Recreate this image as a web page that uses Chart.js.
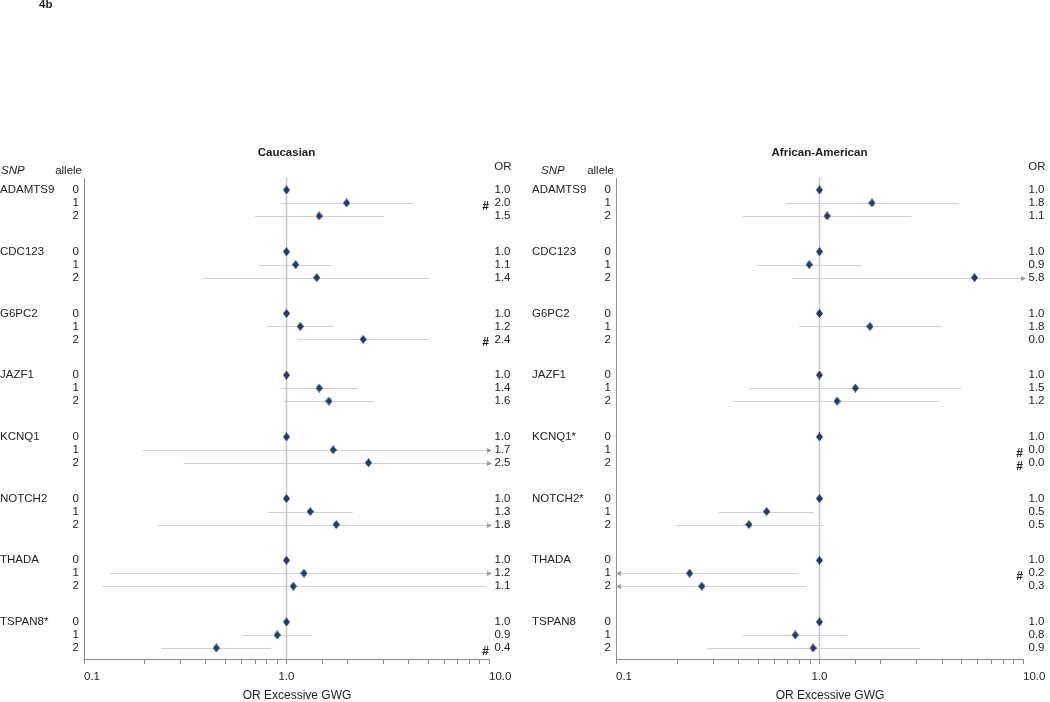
<!DOCTYPE html>
<html>
<head>
<meta charset="utf-8">
<script src="https://cdn.jsdelivr.net/npm/chart.js@4.4.1/dist/chart.umd.min.js"></script>
<style>
body { margin: 0; background: #fff; }
#wrap { position: relative; width: 1050px; height: 702px; }
canvas { position: absolute; top: 0; }
#cau { left: 0; }
#aa { left: 525px; }
</style>
</head>
<body>
<div id="wrap">
<canvas id="cau" width="525" height="702"></canvas>
<canvas id="aa" width="525" height="702"></canvas>
</div>
<script>
// gene rows, 3 alleles each
const ALLELES = ['0', '1', '2']
const SNPS_CAU = ['ADAMTS9', 'CDC123', 'G6PC2', 'JAZF1', 'KCNQ1', 'NOTCH2', 'THADA', 'TSPAN8*']
const SNPS_AA = ['ADAMTS9', 'CDC123', 'G6PC2', 'JAZF1', 'KCNQ1*', 'NOTCH2*', 'THADA', 'TSPAN8']

// Caucasian: odds ratio, CI low, CI high (values past 0.1 / 10 get an arrow)
const OR_CAU = [1.0, 1.98, 1.45, 1.0, 1.11, 1.41, 1.0, 1.17, 2.39, 1.0, 1.45, 1.62,
    1.0, 1.70, 2.54, 1.0, 1.31, 1.76, 1.0, 1.22, 1.08, 1.0, 0.90, 0.45]
const LO_CAU = [null, 0.94, 0.70, null, 0.73, 0.39, null, 0.80, 1.13, null, 0.94, 0.97,
    null, 0.196, 0.31, null, 0.81, 0.23, null, 0.134, 0.123, null, 0.61, 0.24]
const HI_CAU = [null, 4.22, 3.04, null, 1.68, 5.12, null, 1.71, 5.02, null, 2.25, 2.69,
    null, 15, 15, null, 2.12, 15, null, 15, 9.6, null, 1.34, 0.84]
const LABEL_CAU = ['1.0', '2.0', '1.5', '1.0', '1.1', '1.4', '1.0', '1.2', '2.4', '1.0', '1.4', '1.6',
    '1.0', '1.7', '2.5', '1.0', '1.3', '1.8', '1.0', '1.2', '1.1', '1.0', '0.9', '0.4']
const FLAG_CAU = [1, 8, 23]

// African-American
const OR_AA = [1.0, 1.81, 1.09, 1.0, 0.89, 5.78, 1.0, 1.77, null, 1.0, 1.50, 1.22,
    1.0, null, null, 1.0, 0.55, 0.45, 1.0, 0.23, 0.264, 1.0, 0.76, 0.93]
const LO_AA = [null, 0.68, 0.42, null, 0.49, 0.73, null, 0.79, null, null, 0.45, 0.376,
    null, null, null, null, 0.32, 0.197, null, 0.05, 0.05, null, 0.42, 0.28]
const HI_AA = [null, 4.82, 2.83, null, 1.61, 15, null, 4.02, null, null, 4.95, 3.89,
    null, null, null, null, 0.94, 1.05, null, 0.776, 0.86, null, 1.37, 3.11]
const LABEL_AA = ['1.0', '1.8', '1.1', '1.0', '0.9', '5.8', '1.0', '1.8', '0.0', '1.0', '1.5', '1.2',
    '1.0', '0.0', '0.0', '1.0', '0.5', '0.5', '1.0', '0.2', '0.3', '1.0', '0.8', '0.9']
const FLAG_AA = [13, 14, 19]

const TICK_VALUES = [0.1, 1, 10]
const TICK_LABELS = ['0.1', '1.0', '10.0']

const X_MIN = 0.1
const X_MAX = 10
const GROUP_GAP = 4.75
const Y_MIN = -0.92
const Y_MAX = 36.1

const FONT = '11.5px "Liberation Sans", Arial, sans-serif'
const TEXT = '#222222'
const AXIS = '#8c8c8c'
const CI_COLOR = '#cfcfcf'
const ARROW_COLOR = '#999999'
const REF_COLOR = '#c6c6c6'
const MARK_COLOR = '#1f3b6f'

function rowY(i) {
    return Math.floor(i / 3) * GROUP_GAP + i % 3
}

function makeDiamond(w, h, color) {
    const c = document.createElement('canvas')
    c.width = w
    c.height = h
    const g = c.getContext('2d')
    g.fillStyle = color
    g.beginPath()
    g.moveTo(w / 2, 0)
    g.lineTo(w, h / 2)
    g.lineTo(w / 2, h)
    g.lineTo(0, h / 2)
    g.closePath()
    g.fill()
    return c
}
const diamond = makeDiamond(7, 9, MARK_COLOR)

function arrow(ctx, x, y, dir) {
    ctx.beginPath()
    if (dir > 0) {
        ctx.moveTo(x + 3, y)
        ctx.lineTo(x - 2, y - 2.5)
        ctx.lineTo(x - 2, y + 2.5)
    } else {
        ctx.moveTo(x, y)
        ctx.lineTo(x + 5, y - 2.5)
        ctx.lineTo(x + 5, y + 2.5)
    }
    ctx.closePath()
    ctx.fill()
}

function panelPlugin(cfg) {
    return {
        id: 'panel_' + cfg.id,
        beforeDatasetsDraw(chart) {
            const { ctx, scales: { x, y } } = chart
            ctx.save()
            ctx.strokeStyle = CI_COLOR
            ctx.lineWidth = 1.2
            ctx.fillStyle = ARROW_COLOR
            cfg.lo.forEach((lo, i) => {
                const hi = cfg.hi[i]
                if (lo == null || hi == null) return
                const py = Math.round(y.getPixelForValue(rowY(i))) + 0.5
                const x0 = x.getPixelForValue(Math.max(lo, X_MIN))
                const x1 = x.getPixelForValue(Math.min(hi, X_MAX))
                ctx.beginPath()
                ctx.moveTo(x0, py)
                ctx.lineTo(x1, py)
                ctx.stroke()
                if (hi > X_MAX) arrow(ctx, x1, py, 1)
                if (lo < X_MIN) arrow(ctx, x0, py, -1)
            })
            ctx.restore()
        },
        afterDraw(chart) {
            const { ctx, chartArea: a, scales: { x, y } } = chart
            ctx.save()
            ctx.fillStyle = TEXT
            ctx.textBaseline = 'middle'

            ctx.font = 'bold ' + FONT
            ctx.textAlign = 'center'
            ctx.fillText(cfg.title, (a.left + a.right) / 2, 153)
            if (cfg.tag) {
                ctx.textAlign = 'left'
                ctx.fillText(cfg.tag, 39, 5)
            }

            ctx.font = 'italic ' + FONT
            ctx.textAlign = 'left'
            ctx.fillText('SNP', a.left + cfg.snpHeadDx, 171)
            ctx.font = FONT
            ctx.textAlign = 'right'
            ctx.fillText('allele', a.left - 2, 171)
            ctx.fillText('OR', a.right + 22.5, 167)

            cfg.snps.forEach((name, g) => {
                ctx.textAlign = 'left'
                ctx.fillText(name, a.left - 84, y.getPixelForValue(rowY(g * 3)))
            })
            cfg.labels.forEach((lab, i) => {
                const py = y.getPixelForValue(rowY(i))
                ctx.textAlign = 'right'
                ctx.fillText(ALLELES[i % 3], a.left - 5, py)
                ctx.fillText(lab, a.right + 21.5, py)
            })

            ctx.font = 'bold 12px "Liberation Sans", Arial, sans-serif'
            ctx.textAlign = 'center'
            cfg.flags.forEach(i => {
                ctx.fillText('#', a.right - 3.5, y.getPixelForValue(rowY(i)) + 3.5)
            })

            ctx.font = FONT
            TICK_VALUES.forEach((v, k) => {
                ctx.textAlign = k === 1 ? 'center' : 'left'
                ctx.fillText(TICK_LABELS[k], x.getPixelForValue(v), 677)
            })
            ctx.font = '12px "Liberation Sans", Arial, sans-serif'
            ctx.textAlign = 'center'
            ctx.fillText('OR Excessive GWG', (a.left + a.right + 21) / 2, 696)
            ctx.restore()
        }
    }
}

function drawPanel(canvasId, cfg, padLeft, padRight) {
    const points = []
    cfg.or.forEach((v, i) => {
        if (v != null) points.push({ x: v, y: rowY(i) })
    })
    return new Chart(document.getElementById(canvasId), {
        type: 'scatter',
        data: {
            datasets: [
                {
                    data: points,
                    pointStyle: diamond,
                    pointRadius: 4,
                    pointHoverRadius: 4
                },
                {
                    type: 'line',
                    data: [{ x: 1, y: Y_MIN }, { x: 1, y: Y_MAX }],
                    borderColor: REF_COLOR,
                    borderWidth: 1.5,
                    pointRadius: 0
                }
            ]
        },
        options: {
            responsive: false,
            animation: false,
            events: [],
            layout: { padding: { left: padLeft, right: padRight, top: 178, bottom: 0 } },
            plugins: { legend: { display: false }, tooltip: { enabled: false } },
            scales: {
                x: {
                    type: 'logarithmic',
                    min: X_MIN,
                    max: X_MAX,
                    afterFit: s => { s.height = 43 },
                    border: { color: AXIS, width: 1 },
                    grid: { drawOnChartArea: false, drawTicks: true, tickLength: 5, color: AXIS },
                    ticks: { autoSkip: false, maxRotation: 0, callback: () => '' }
                },
                y: {
                    type: 'linear',
                    reverse: true,
                    min: Y_MIN,
                    max: Y_MAX,
                    afterFit: s => { s.width = 0 },
                    border: { color: AXIS, width: 1 },
                    grid: { drawOnChartArea: false, drawTicks: false },
                    ticks: { display: false }
                }
            }
        },
        plugins: [panelPlugin(cfg)]
    })
}

drawPanel('cau', {
    id: 'cau', title: 'Caucasian', tag: '4b', snpHeadDx: -83,
    snps: SNPS_CAU, or: OR_CAU, lo: LO_CAU, hi: HI_CAU, labels: LABEL_CAU, flags: FLAG_CAU
}, 84, 36)

drawPanel('aa', {
    id: 'aa', title: 'African-American', snpHeadDx: -75,
    snps: SNPS_AA, or: OR_AA, lo: LO_AA, hi: HI_AA, labels: LABEL_AA, flags: FLAG_AA
}, 91, 27)
</script>
</body>
</html>
